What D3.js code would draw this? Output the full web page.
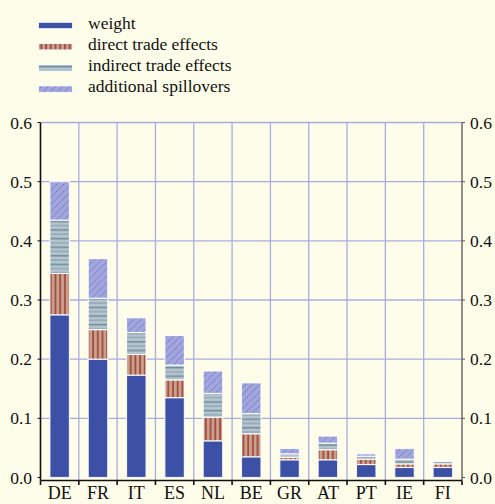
<!DOCTYPE html>
<html>
<head>
<meta charset="utf-8">
<script src="https://cdn.jsdelivr.net/npm/d3@7"></script>
<style>
  html, body { margin: 0; padding: 0; background: #fefde9; }
  svg { display: block; }
  text { font-family: "Liberation Serif", "DejaVu Serif", serif; fill: #111; }
</style>
</head>
<body>
<svg id="chart" width="495" height="504"></svg>
<script>
// Contributions by country, stacked from the bottom up
const countries = ["DE", "FR", "IT", "ES", "NL", "BE", "GR", "AT", "PT", "IE", "FI"];
const weight      = [0.275, 0.200, 0.173, 0.135, 0.062, 0.035, 0.030, 0.030, 0.022, 0.017, 0.017];
const directTrade = [0.070, 0.050, 0.035, 0.030, 0.040, 0.039, 0.004, 0.017, 0.009, 0.006, 0.006];
const indirectTrade = [0.090, 0.053, 0.037, 0.025, 0.040, 0.034, 0.006, 0.011, 0.005, 0.008, 0.004];
const spillovers  = [0.065, 0.067, 0.025, 0.050, 0.038, 0.052, 0.009, 0.012, 0.004, 0.018, 0.001];
const seriesNames = ["weight", "direct trade effects", "indirect trade effects", "additional spillovers"];
const yTicks = [0.0, 0.1, 0.2, 0.3, 0.4, 0.5, 0.6];

(function draw() {
const svg = d3.select("#chart");
const W = 495, H = 504;
svg.append("rect").attr("width", W).attr("height", H).attr("fill", "#fefde9");

const plotLeft = 40.5, plotRight = 462, plotTop = 122.5, zeroY = 477.5, axisY = 480.5;

const x = d3.scaleBand().domain(countries).range([plotLeft, plotRight]).paddingInner(0.49).paddingOuter(0.245);
const y = d3.scaleLinear().domain([0, 0.6]).range([zeroY, plotTop]);

// Fill patterns
const defs = svg.append("defs");
const pDirect = defs.append("pattern").attr("id", "pDirect").attr("patternUnits", "userSpaceOnUse")
  .attr("width", 4.7).attr("height", 10);
pDirect.append("rect").attr("width", 4.7).attr("height", 10).attr("fill", "#c99f8e");
pDirect.append("rect").attr("x", 3.1).attr("width", 1.4).attr("height", 10).attr("fill", "#983627");

const pIndirect = defs.append("pattern").attr("id", "pIndirect").attr("patternUnits", "userSpaceOnUse")
  .attr("width", 10).attr("height", 8.6);
pIndirect.append("rect").attr("width", 10).attr("height", 8.6).attr("fill", "#b6c5cd");
pIndirect.append("rect").attr("y", 1.5).attr("width", 10).attr("height", 1).attr("fill", "#7e9aa8");
pIndirect.append("rect").attr("y", 5.6).attr("width", 10).attr("height", 1.6).attr("fill", "#6f8e9d");

const pSpill = defs.append("pattern").attr("id", "pSpill").attr("patternUnits", "userSpaceOnUse")
  .attr("width", 5).attr("height", 5).attr("patternTransform", "rotate(45)");
pSpill.append("rect").attr("width", 5).attr("height", 5).attr("fill", "#a2a6dd");
pSpill.append("line").attr("x1", 0).attr("y1", 0).attr("x2", 0).attr("y2", 5)
  .attr("stroke", "#4a56b0").attr("stroke-width", 1.4).attr("stroke-dasharray", "1.3,1.2");

const fills = ["#3c51a6", "url(#pDirect)", "url(#pIndirect)", "url(#pSpill)"];

// Gridlines
const grid = svg.append("g");
yTicks.filter(t => t > 0).forEach(t => {
  grid.append("line").attr("x1", plotLeft).attr("x2", plotRight).attr("y1", y(t)).attr("y2", y(t))
    .attr("stroke", "#a9ace0").attr("stroke-width", 1.3);
});
const step = x.step();
for (let i = 1; i < countries.length; i++) {
  const gx = plotLeft + i * step;
  grid.append("line").attr("x1", gx).attr("x2", gx).attr("y1", plotTop).attr("y2", axisY)
    .attr("stroke", "#a9ace0").attr("stroke-width", 1.3);
}

// Stacked bars
const table = countries.map((c, i) => ({
  country: c, s0: weight[i], s1: directTrade[i], s2: indirectTrade[i], s3: spillovers[i]
}));
const stack = d3.stack().keys(["s0", "s1", "s2", "s3"])(table);
svg.append("g").selectAll("g").data(stack).join("g")
  .attr("fill", (d, i) => fills[i])
  .selectAll("rect").data(d => d).join("rect")
  .attr("x", d => x(d.data.country))
  .attr("width", x.bandwidth())
  .attr("y", d => y(d[1]))
  .attr("height", d => Math.max(0, y(d[0]) - y(d[1])))
  .attr("stroke", "#ffffff").attr("stroke-opacity", 0.85).attr("stroke-width", 1.2);

// Left axis
const axL = svg.append("g");
axL.append("line").attr("x1", plotLeft).attr("x2", plotLeft).attr("y1", plotTop).attr("y2", axisY)
  .attr("stroke", "#111").attr("stroke-width", 1.6);
yTicks.forEach(t => {
  axL.append("line").attr("x1", plotLeft - 3).attr("x2", plotLeft).attr("y1", y(t)).attr("y2", y(t))
    .attr("stroke", "#111").attr("stroke-width", 1);
  axL.append("text").attr("x", 32).attr("y", y(t) + 6).attr("text-anchor", "end")
    .attr("font-size", 17.5).text(t.toFixed(1));
});

// Right axis
const axR = svg.append("g");
axR.append("line").attr("x1", plotRight).attr("x2", plotRight).attr("y1", plotTop).attr("y2", axisY)
  .attr("stroke", "#555").attr("stroke-width", 1.3);
yTicks.forEach(t => {
  axR.append("line").attr("x1", plotRight).attr("x2", plotRight + 3).attr("y1", y(t)).attr("y2", y(t))
    .attr("stroke", "#555").attr("stroke-width", 1);
  axR.append("text").attr("x", 470).attr("y", y(t) + 6).attr("text-anchor", "start")
    .attr("font-size", 17.5).text(t.toFixed(1));
});

// Bottom axis
const axB = svg.append("g");
axB.append("line").attr("x1", plotLeft).attr("x2", plotRight).attr("y1", axisY).attr("y2", axisY)
  .attr("stroke", "#111").attr("stroke-width", 1.6);
for (let i = 0; i <= countries.length; i++) {
  const tx = plotLeft + i * step;
  axB.append("line").attr("x1", tx).attr("x2", tx).attr("y1", axisY).attr("y2", axisY + 4.5)
    .attr("stroke", "#111").attr("stroke-width", 1.6);
}
countries.forEach(c => {
  axB.append("text").attr("x", x(c) + x.bandwidth() / 2).attr("y", 499)
    .attr("text-anchor", "middle").attr("font-size", 18).text(c);
});

// Legend
const legend = svg.append("g");
seriesNames.forEach((name, i) => {
  const ly = 25.5 + i * 21.2;
  legend.append("rect").attr("x", 38.5).attr("y", ly - 3.2).attr("width", 34).attr("height", 6.4)
    .attr("fill", fills[i]).attr("stroke", "#ffffff").attr("stroke-width", 0.8);
  legend.append("text").attr("x", 88).attr("y", ly + 3).attr("font-size", 17.5).text(name);
});
})();
</script>
</body>
</html>
